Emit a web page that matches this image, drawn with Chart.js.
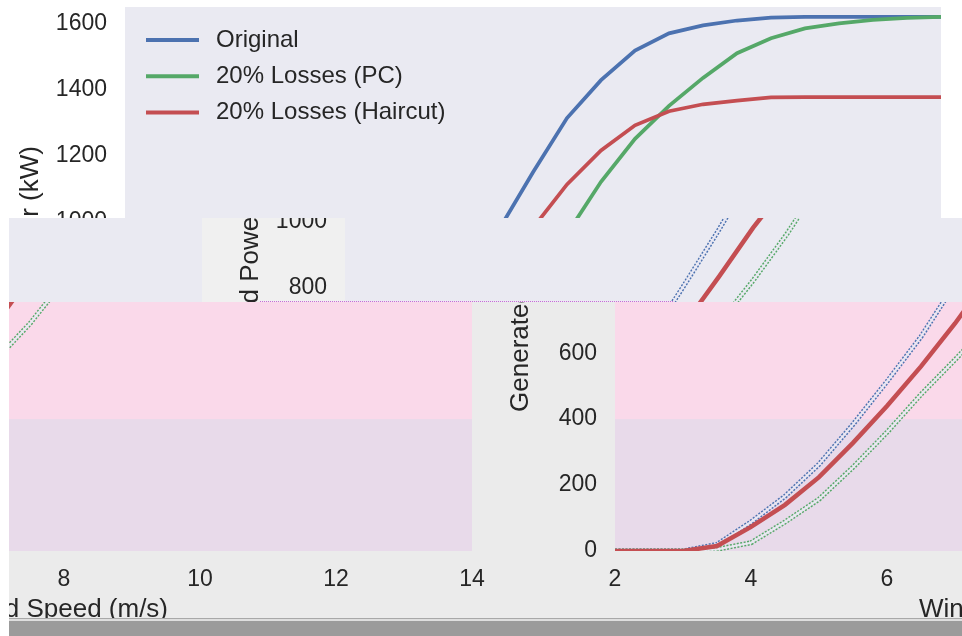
<!DOCTYPE html>
<html>
<head>
<meta charset="utf-8">
<title>Power curve losses</title>
<script src="https://cdn.jsdelivr.net/npm/chart.js@4.4.1/dist/chart.umd.min.js"></script>
<style>
  html, body { margin: 0; padding: 0; background: #ffffff; }
  #stage { position: relative; width: 962px; height: 636px; overflow: hidden; background: #ffffff; }
  .band { position: absolute; overflow: hidden; }
  .band canvas { position: absolute; }
  #top { left: 0; top: 0; width: 962px; height: 218px; background: #ffffff; }
  #mid { left: 9px; top: 218px; width: 953px; height: 84px; background: #f0f0f0; }
  #low { left: 9px; top: 302px; width: 953px; height: 317px; background: #ebebeb; }
  #dots { position: absolute; left: 260px; top: 301px; width: 413px; height: 0; border-top: 1px dotted #c86ad8; }
  .bar { position: absolute; left: 9px; width: 953px; }
</style>
</head>
<body>
<div id="stage">
  <div class="band" id="top"><canvas id="c0" width="959" height="640" style="left:0;top:0"></canvas></div>
  <div class="band" id="mid">
    <canvas id="c1" width="959" height="640" style="left:211px;top:-218px"></canvas>
    <canvas id="c2" width="959" height="640" style="left:-748px;top:-218px"></canvas>
  </div>
  <div class="band" id="low">
    <canvas id="c3" width="959" height="640" style="left:481px;top:-302px"></canvas>
    <canvas id="c4" width="959" height="640" style="left:-478px;top:-302px"></canvas>
  </div>
  <div id="dots"></div>
  <div class="bar" style="top:618px;height:1px;background:#a8a8a8"></div>
  <div class="bar" style="top:619px;height:2px;background:#dedede"></div>
  <div class="bar" style="top:621px;height:15px;background:#9b9b9b"></div>
</div>
<script>
// wind speed (m/s) and generated power (kW)
const windSpeed = [2, 2.5, 3, 3.5, 4, 4.5, 5, 5.5, 6, 6.5, 7, 7.5, 8, 8.5, 9, 9.5, 10, 10.5, 11, 11.5, 12, 12.5, 13, 13.5, 14];
const original = [0, 0, 0, 20, 88, 166, 263, 384, 514, 650, 810, 975, 1149, 1313, 1428, 1518, 1570, 1594, 1609, 1618, 1620, 1620, 1620, 1620, 1620];
const lossesPC = [0, 0, 0, 5, 25, 88, 157, 254, 360, 475, 580, 690, 820, 962, 1120, 1250, 1350, 1435, 1510, 1555, 1585, 1600, 1611, 1617, 1620];
const lossesHaircut = [0, 0, 0, 15, 73, 140, 224, 328, 440, 560, 690, 832, 980, 1112, 1215, 1291, 1334, 1355, 1366, 1376, 1377, 1377, 1377, 1377, 1377];
const seriesNames = ['Original', '20% Losses (PC)', '20% Losses (Haircut)'];
const xTickValues = [2, 4, 6, 8, 10, 12, 14];
const yTickValues = [0, 200, 400, 600, 800, 1000, 1200, 1400, 1600];

const H = 640;
const family = '"Liberation Sans", Arial, sans-serif';
const ink = '#262626';
const colors = ['#4c72b0', '#55a868', '#c44e52'];
const pts = (ys) => windSpeed.map((x, i) => ({ x: x, y: ys[i] }));

// page + axes background
const backdrop = {
	id: 'backdrop',
	beforeDraw(chart, args, opts) {
		const { ctx, chartArea: a } = chart;
		ctx.save();
		ctx.fillStyle = opts.page;
		ctx.fillRect(0, 0, chart.width, chart.height);
		ctx.fillStyle = opts.plot;
		ctx.fillRect(a.left, a.top, a.width, a.height);
		if (opts.lower) {
			const yb = chart.scales.y.getPixelForValue(400);
			ctx.fillStyle = opts.lower;
			ctx.fillRect(a.left, yb, a.width, a.bottom - yb);
		}
		ctx.restore();
	},
};

// legend drawn inside the axes, upper left
const cornerLegend = {
	id: 'cornerLegend',
	afterDatasetsDraw(chart) {
		const { ctx, chartArea: a } = chart;
		ctx.save();
		ctx.font = '24px ' + family;
		ctx.textBaseline = 'middle';
		ctx.fillStyle = ink;
		seriesNames.forEach((name, i) => {
			const y = a.top + 33 + i * 36.3;
			ctx.strokeStyle = colors[i];
			ctx.lineWidth = 4;
			ctx.beginPath();
			ctx.moveTo(a.left + 21, y);
			ctx.lineTo(a.left + 74, y);
			ctx.stroke();
			ctx.fillText(name, a.left + 91, y);
		});
		ctx.restore();
	},
};

function buildDatasets(outlined) {
	const sets = [];
	[original, lossesPC, lossesHaircut].forEach((vals, i) => {
		const hollow = outlined && i < 2;
		sets.push({
			label: seriesNames[i],
			data: pts(vals),
			borderColor: colors[i],
			borderWidth: hollow ? 5 : outlined ? 4.5 : 3.75,
			borderDash: hollow ? [2, 1.5] : [],
			order: 10 - i * 3,
		});
		// light core gives the doubled look of the lower panels
		if (hollow) {
			sets.push({
				label: '',
				data: pts(vals),
				borderColor: 'rgba(236,234,244,0.95)',
				borderWidth: 2.2,
				order: 9 - i * 3,
			});
		}
	});
	return sets;
}

// keep the axes box fixed: no extra room for edge labels
const noEdgePadding = (s) => {
	s.paddingTop = 0;
	s.paddingBottom = 0;
	s.paddingLeft = 0;
	s.paddingRight = 0;
};

function makeChart(id, look) {
	return new Chart(document.getElementById(id), {
		type: 'line',
		plugins: [backdrop, cornerLegend],
		data: { datasets: buildDatasets(look.outlined) },
		options: {
			responsive: false,
			animation: false,
			devicePixelRatio: 1,
			layout: { padding: { top: 7, right: 18, left: 0, bottom: 0 } },
			elements: { point: { radius: 0 }, line: { tension: 0, fill: false, borderCapStyle: 'butt' } },
			plugins: {
				legend: { display: false },
				tooltip: { enabled: false },
				backdrop: look,
			},
			scales: {
				x: {
					type: 'linear',
					min: 2,
					max: 14,
					grid: { display: false, drawTicks: false },
					border: { display: false },
					afterBuildTicks: (s) => { s.ticks = xTickValues.map((v) => ({ value: v })); },
					afterFit: (s) => { s.height = H - 551; noEdgePadding(s); },
					ticks: { padding: 15, color: ink, font: { family: family, size: 23 }, maxRotation: 0, autoSkip: false, callback: (v) => String(v) },
					title: { display: true, text: 'Wind Speed (m/s)', color: ink, font: { family: family, size: 26, lineHeight: 1 }, padding: { top: 0, bottom: 17 } },
				},
				y: {
					min: 0,
					max: 1650,
					grid: { display: false, drawTicks: false },
					border: { display: false },
					afterBuildTicks: (s) => { s.ticks = yTickValues.map((v) => ({ value: v })); },
					afterFit: (s) => { s.width = 125; noEdgePadding(s); },
					ticks: { padding: 18, color: ink, font: { family: family, size: 23 }, autoSkip: false, callback: (v) => String(v) },
					title: { display: true, text: 'Generated Power (kW)', color: ink, font: { family: family, size: 26, lineHeight: 1 }, padding: { top: 18, bottom: 0 } },
				},
			},
		},
	});
}

const upperLook = { page: '#ffffff', plot: '#eaeaf2', outlined: false };
const middleLook = { page: '#f0f0f0', plot: '#eaeaf2', outlined: true };
const lowerLook = { page: '#ebebeb', plot: '#fad9ea', lower: '#e8daea', outlined: true };

makeChart('c0', upperLook);
makeChart('c1', middleLook);
makeChart('c2', middleLook);
makeChart('c3', lowerLook);
makeChart('c4', lowerLook);
</script>
</body>
</html>
